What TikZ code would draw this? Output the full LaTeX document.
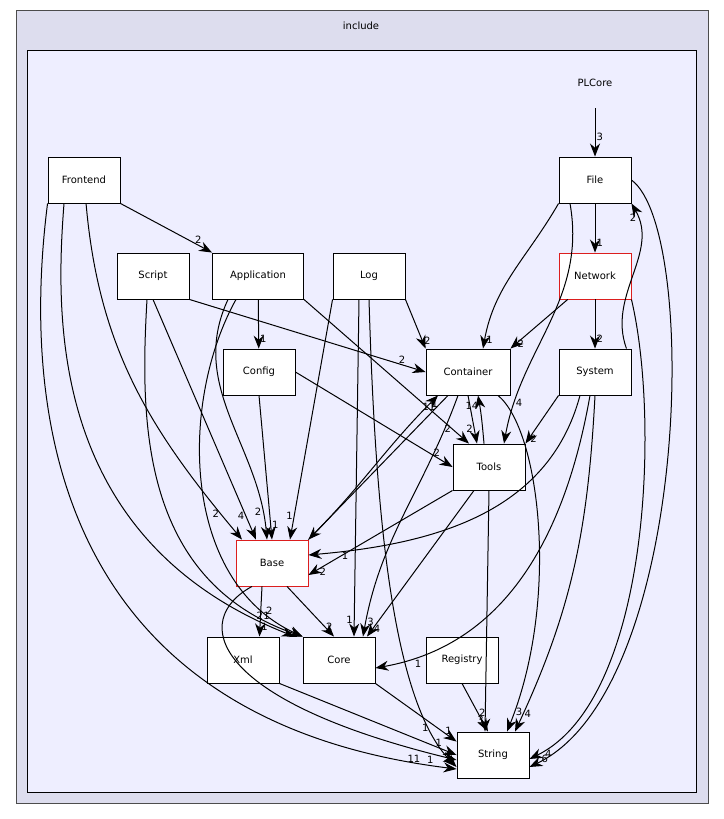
\documentclass[tikz,border=0pt]{standalone}
\usepackage{fontspec}
\setmainfont{DejaVu Sans}
\usetikzlibrary{arrows.meta}
\definecolor{outerbg}{RGB}{221,221,238}
\definecolor{innerbg}{RGB}{238,238,255}
\definecolor{redline}{RGB}{220,30,30}
\begin{document}
\begin{tikzpicture}[x=1pt,y=-1pt,
  box/.style={draw=black,fill=white,minimum width=72pt,minimum height=46pt,inner sep=0pt,font=\fontsize{10}{12}\selectfont,line width=0.9pt},
  e/.style={-{Stealth[length=13pt,width=10pt]},line width=1pt},
  lb/.style={font=\fontsize{10}{12}\selectfont,inner sep=1pt}]
\useasboundingbox (0,0) rectangle (723,819);
\draw[fill=outerbg, draw=black!70] (16,10) rectangle (708,803);
\node[font=\fontsize{10}{12}\selectfont] at (361,26) {include};
\draw[fill=innerbg, draw=black] (27,50) rectangle (696,792);
\node[font=\fontsize{10}{12}\selectfont] (plc) at (595,83) {PLCore};
\coordinate (plcs) at (595,108);
\node[box] (frontend) at (84,180) {Frontend};
\node[box] (script) at (153,276) {Script};
\node[box,minimum width=91pt] (app) at (258,276) {Application};
\node[box] (log) at (369,276) {Log};
\node[box] (file) at (595,180) {File};
\node[box,draw=redline] (net) at (595,276) {Network};
\node[box] (sys) at (595,372) {System};
\node[box] (config) at (259,372) {Config};
\node[box,minimum width=84pt] (cont) at (468,372) {Container};
\node[box] (tools) at (489,467) {Tools};
\node[box,draw=redline] (base) at (272,563) {Base};
\node[box] (xml) at (243,660) {Xml};
\node[box] (core) at (339,660) {Core};
\node[box] (reg) at (462,660) {Registry};
\node[box] (str) at (493,755) {String};

\draw[e] (plcs) -- (file) node[lb,pos=0.6,right]{3};
\draw[e] (file) -- (net) node[lb,pos=0.8,right]{1};
\draw[e] (file.south west) to[out=-120,in=80] node[lb,pos=0.95,right]{1} ([xshift=15]cont.north);
\draw[e] ([xshift=-25]file.south) to[out=-80,in=80] node[lb,pos=0.85,right]{4} ([xshift=15]tools.north);
\draw[e] (file.east) .. controls (700,230) and (690,690) .. node[lb,pos=0.97,above right]{4} ([yshift=-12]str.east);
\draw[e] ([xshift=-5]sys.north east) to[out=110,in=-60] node[lb,pos=0.9,left]{2} (file.south east);
\draw[e] (net) -- node[lb,pos=0.9,right]{2} (cont.north east);
\draw[e] (net) -- node[lb,pos=0.8,right]{2} (sys);
\draw[e] (net.south east) .. controls (660,420) and (650,700) .. node[lb,pos=0.97,below right]{6} ([yshift=-4]str.east);
\draw[e] (frontend.south east) -- node[lb,pos=0.85,above]{2} (app.north west);
\draw[e] (frontend) to[out=-85,in=130] node[lb,pos=0.92,left]{2} ([xshift=-30]base.north);
\draw[e] ([xshift=-20]frontend.south) .. controls (55,320) and (50,540) .. node[lb,pos=0.95,above]{2} ([xshift=-8]core.north west);
\draw[e] (frontend.south west) .. controls (20,420) and (60,720) .. node[lb,pos=0.97,above left]{11} ([yshift=-14]str.west);
\draw[e] (script.south east) -- node[lb,pos=0.9,above]{2} (cont.west);
\draw[e] (script.south) -- node[lb,pos=0.9,left]{4} ([xshift=-16]base.north);
\draw[e] ([xshift=-6]script.south) .. controls (140,420) and (140,580) .. node[lb,pos=0.92,above]{1} (core.north west);
\draw[e] (app) -- node[lb,pos=0.8,right]{1} (config);
\draw[e] ([xshift=-30]app.south) to[out=-115,in=95] node[lb,pos=0.9,left]{2} ([xshift=-5]base.north);
\draw[e] (app.south east) -- node[lb,pos=0.9,left]{2} ([xshift=-20]tools.north);
\draw[e] ([xshift=-22]app.south) .. controls (180,400) and (180,580) .. node[lb,pos=0.9,above]{2} (core.north west);
\draw[e] (log.south east) -- node[lb,pos=0.85,right]{2} (cont.north west);
\draw[e] (log.south west) -- node[lb,pos=0.9,left]{1} ([xshift=18]base.north);
\draw[e] ([xshift=-10]log.south) -- node[lb,pos=0.95,left]{1} ([xshift=15]core.north);
\draw[e] (log.south) .. controls (375,500) and (390,700) .. node[lb,pos=0.85,left]{1} ([yshift=-12]str.west);
\draw[e] (config.south) -- node[lb,pos=0.9,right]{1} (base.north);
\draw[e] (config.east) -- node[lb,pos=0.9,above]{2} (tools.west);
\draw[e] ([xshift=-20]cont.south) -- node[lb,pos=0.08,left]{11} (base.north east);
\draw[e] (cont.south) -- node[lb,pos=0.7,left]{2} ([xshift=-12]tools.north);
\draw[e] ([xshift=-10]cont.south) to[out=-110,in=80] node[lb,pos=0.95,right]{3} ([xshift=24]core.north);
\draw[e] ([xshift=30]cont.south) .. controls (540,430) and (560,600) .. node[lb,pos=0.95,right]{3} ([xshift=14]str.north);
\draw[e] ([xshift=-5]tools.north) to[out=95,in=-80] node[lb,pos=0.8,left]{14} ([xshift=10]cont.south);
\draw[e] (tools.south west) -- node[lb,pos=0.9,below]{2} ([yshift=-12]base.east);
\draw[e] ([xshift=-15]tools.south) -- node[lb,pos=0.95,right]{4} ([xshift=28]core.north);
\draw[e] (tools.south) -- node[lb,pos=0.95,left]{3} ([xshift=-8]str.north);
\draw[e] (sys.south west) -- node[lb,pos=0.9,right]{2} (tools.north east);
\draw[e] ([xshift=-15]sys.south) to[out=-105,in=5] node[lb,pos=0.9,below]{1} ([yshift=8]base.east);
\draw[e] ([xshift=-5]sys.south) to[out=-100,in=10] node[lb,pos=0.9,below right]{1} ([yshift=-8]core.east);
\draw[e] (sys.south) to[out=-93,in=65] node[lb,pos=0.95,right]{4} ([xshift=22]str.north);
\draw[e] (base.north east) to[out=45,in=-135] node[lb,pos=0.95,right]{1} ([xshift=-30]cont.south);
\draw[e] ([xshift=-10]base.south) -- node[lb,pos=0.8,right]{1} ([xshift=-20]xml.north east);
\draw[e] ([xshift=15]base.south) -- node[lb,pos=0.8,right]{2} ([xshift=-5]core.north);
\draw[e] ([xshift=-20]base.south) .. controls (190,620) and (210,700) .. node[lb,pos=0.97,below left]{1} ([yshift=-5]str.west);
\draw[e] (core.south east) -- node[lb,pos=0.9,above]{1} ([yshift=-10]str.north west);
\draw[e] (xml.south east) -- node[lb,pos=0.9,above]{1} (str.west);
\draw[e] (reg.south) -- node[lb,pos=0.6,right]{2} ([xshift=-5]str.north);
\end{tikzpicture}
\end{document}
